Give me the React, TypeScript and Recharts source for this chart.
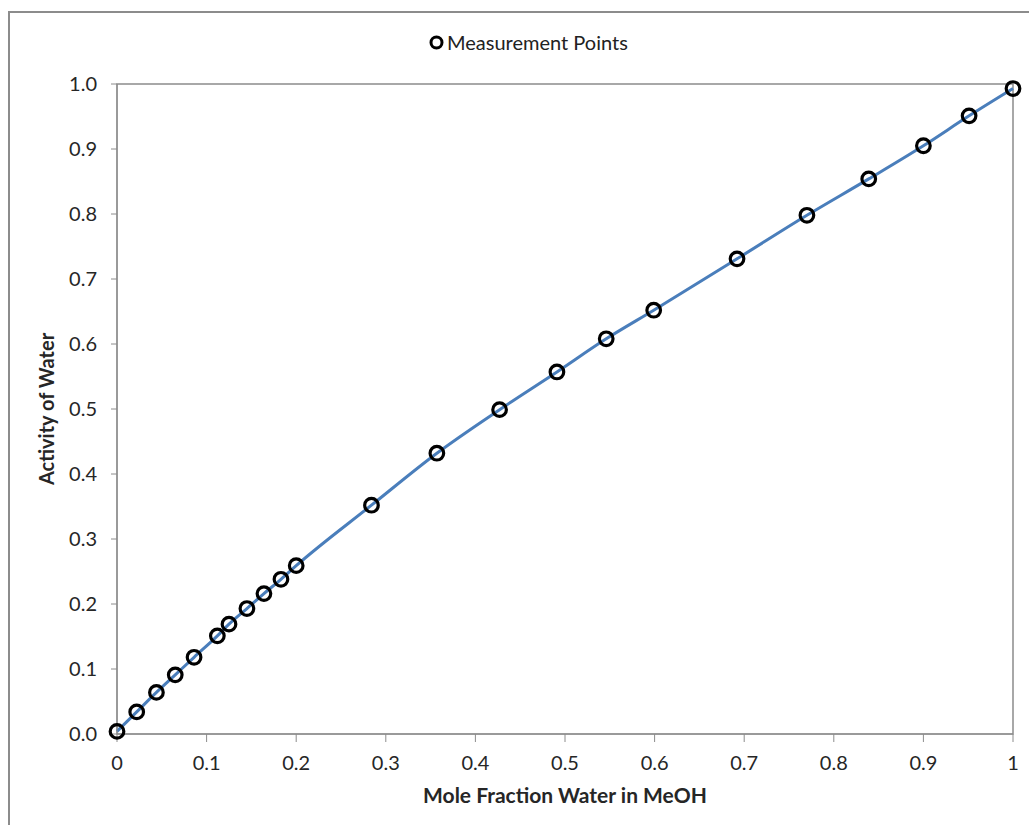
import {
  ComposedChart,
  Line,
  Scatter,
  XAxis,
  YAxis,
  Legend,
  ReferenceArea,
} from "recharts";

const moleFraction = [
  0.0, 0.022, 0.044, 0.065, 0.086, 0.112, 0.125, 0.145, 0.164, 0.183, 0.2,
  0.284, 0.357, 0.427, 0.491, 0.546, 0.599, 0.692, 0.77, 0.839, 0.9, 0.951, 1.0,
];

const activity = [
  0.004, 0.034, 0.064, 0.091, 0.118, 0.151, 0.169, 0.193, 0.216, 0.238, 0.259,
  0.352, 0.432, 0.499, 0.557, 0.608, 0.652, 0.731, 0.798, 0.854, 0.905, 0.951, 0.993,
];

const xTicks = [0, 0.1, 0.2, 0.3, 0.4, 0.5, 0.6, 0.7, 0.8, 0.9, 1];
const yTicks = [0, 0.1, 0.2, 0.3, 0.4, 0.5, 0.6, 0.7, 0.8, 0.9, 1];

const points = moleFraction.map((x, i) => ({ x, y: activity[i] }));

const font = "Lato, 'Open Sans', sans-serif";
const axisGray = "#8c8c8c";
const lineBlue = "#4a7ebb";

function RingDot(props: any) {
  const { cx, cy } = props;
  if (cx == null || cy == null) return null;
  return <circle cx={cx} cy={cy} r={6.8} fill="none" stroke="#000" strokeWidth={3.2} />;
}

function LegendBox() {
  return (
    <div style={{ display: "flex", alignItems: "center", height: 20, fontFamily: font, fontSize: 20, color: "#222" }}>
      <svg width={15} height={15} style={{ marginRight: 3 }}>
        <circle cx={7.5} cy={7.5} r={5.5} fill="none" stroke="#000" strokeWidth={3} />
      </svg>
      <span>Measurement Points</span>
    </div>
  );
}

export default function App() {
  return (
    <div style={{ position: "absolute", left: 0, top: 0, width: 1029, height: 825, background: "#fff" }}>
      <div
        style={{
          position: "absolute",
          left: 8,
          top: 11,
          width: 1021,
          height: 814,
          borderLeft: "2px solid #8c8c8c",
          borderTop: "2px solid #8c8c8c",
          boxSizing: "border-box",
        }}
      />
      <div style={{ position: "absolute", left: 0, top: 0 }}>
        <ComposedChart
          width={1029}
          height={825}
          data={points}
          margin={{ top: 64, right: 16, bottom: 41, left: 57 }}
        >
          <XAxis
            dataKey="x"
            type="number"
            domain={[0, 1]}
            ticks={xTicks}
            tickFormatter={(v: number) => (v === 0 || v === 1 ? String(v) : v.toFixed(1))}
            height={50}
            stroke={axisGray}
            tickSize={8}
            tickMargin={14}
            tick={{ fill: "#262626", fontSize: 20, fontFamily: font }}
            label={{
              value: "Mole Fraction Water in MeOH",
              position: "insideBottom",
              offset: -19,
              style: { fill: "#262626", fontSize: 21, fontWeight: 700, fontFamily: font },
            }}
          />
          <YAxis
            type="number"
            domain={[0, 1]}
            ticks={yTicks}
            tickFormatter={(v: number) => v.toFixed(1)}
            width={60}
            stroke={axisGray}
            tickSize={6}
            tickMargin={14}
            tick={{ fill: "#262626", fontSize: 20, fontFamily: font }}
            label={{
              value: "Activity of Water",
              angle: -90,
              position: "insideLeft",
              offset: -10,
              style: { textAnchor: "middle", fill: "#262626", fontSize: 20, fontWeight: 700, fontFamily: font },
            }}
          />
          <ReferenceArea x1={0} x2={1} y1={0} y2={1} fill="none" stroke={axisGray} strokeWidth={1.5} />
          <Legend
            verticalAlign="top"
            content={() => <LegendBox />}
            wrapperStyle={{ top: 32, left: 429, width: 220, height: 20 }}
          />
          <Line
            dataKey="y"
            type="monotone"
            stroke={lineBlue}
            strokeWidth={3}
            dot={false}
            activeDot={false}
            legendType="none"
            isAnimationActive={false}
          />
          <Scatter dataKey="y" shape={<RingDot />} name="Measurement Points" isAnimationActive={false} />
        </ComposedChart>
      </div>
    </div>
  );
}
